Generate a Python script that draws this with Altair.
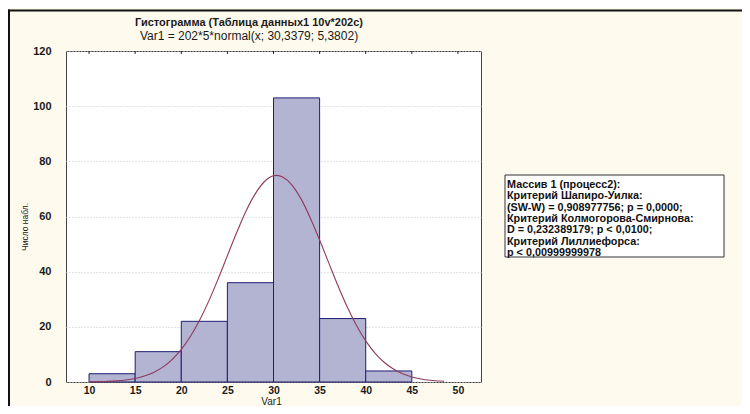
import altair as alt
import pandas as pd

FONT = "Liberation Sans"

# Histogram bins and counts
bin_start = [10, 15, 20, 25, 30, 35, 40]
bin_end = [15, 20, 25, 30, 35, 40, 45]
counts = [3, 11, 22, 36, 103, 23, 4]

# Fitted normal curve points
curve_x = [10, 11, 12, 13, 14, 15, 16, 17, 18, 19, 20, 21, 22, 23, 24, 25, 26, 27, 28, 29,
           30, 30.34, 31, 32, 33, 34, 35, 36, 37, 38, 39, 40, 41, 42, 43, 44, 45, 46, 47, 48, 48.5]
curve_y = [0.06, 0.12, 0.22, 0.42, 0.74, 1.29, 2.15, 3.46, 5.4, 8.13, 11.8, 16.6, 22.5, 29.5, 37.4,
           45.8, 54.1, 61.8, 68.1, 72.6, 74.75, 74.9, 74.3, 71.4, 66.3, 59.4, 51.5, 43.1, 34.8, 27.2,
           20.5, 14.9, 10.5, 7.15, 4.7, 2.98, 1.83, 1.08, 0.62, 0.34, 0.25]

x_ticks = [10, 15, 20, 25, 30, 35, 40, 45, 50]
y_ticks = [0, 20, 40, 60, 80, 100, 120]

title_lines = ["Гистограмма (Таблица данных1 10v*202c)",
               "Var1 = 202*5*normal(x; 30,3379; 5,3802)"]
x_title = "Var1"
y_title = "Число набл."
box_lines = ["Массив 1 (процесс2):",
             "Критерий Шапиро-Уилка:",
             "(SW-W) = 0,908977756; p = 0,0000;",
             "Критерий Колмогорова-Смирнова:",
             "D = 0,232389179; p < 0,0100;",
             "Критерий Лиллиефорса:",
             "p < 0,00999999978"]

bars_df = pd.DataFrame({"start": bin_start, "end": bin_end, "count": counts})
curve_df = pd.DataFrame({"x": curve_x, "y": curve_y})
ticks_df = pd.DataFrame({"x": x_ticks})
one = ticks_df.head(1)

W, H = 415, 331
PL, PT = 58, 43
TOTAL_W, TOTAL_H = 734, 398

xscale = alt.Scale(domain=[7.5, 52.5], nice=False, zero=False)
yscale = alt.Scale(domain=[0, 120], nice=False)

xaxis = alt.Axis(values=x_ticks, title=None, ticks=False, domain=False, grid=False,
                 labelFont=FONT, labelFontSize=10.5, labelFontWeight="bold", labelColor="#1a1a1a",
                 labelPadding=3)
yaxis = alt.Axis(values=y_ticks, title=None, ticks=False, domain=False,
                 grid=True, gridColor="#c8c8c8", gridDash=[1, 2], gridWidth=1,
                 labelFont=FONT, labelFontSize=11, labelFontWeight="bold", labelColor="#1a1a1a",
                 labelPadding=15)

bars = alt.Chart(bars_df).mark_bar(
    fill="#b3b3d2", stroke="#1e1e74", strokeWidth=1, opacity=1
).encode(
    x=alt.X("start:Q", scale=xscale, axis=xaxis),
    x2="end:Q",
    y=alt.Y("count:Q", scale=yscale, axis=yaxis),
    y2=alt.datum(0),
)

curve = alt.Chart(curve_df).mark_line(
    color="#8e3a5c", strokeWidth=1.1, interpolate="monotone"
).encode(x=alt.X("x:Q", scale=xscale), y=alt.Y("y:Q", scale=yscale))

top_ticks = alt.Chart(ticks_df).mark_rule(color="#222", strokeWidth=1).encode(
    x=alt.X("x:Q", scale=xscale), y=alt.value(0), y2=alt.value(3)
)

border_top = alt.Chart(one).mark_rule(color="#111", strokeWidth=2).encode(
    x=alt.value(-PL), x2=alt.value(TOTAL_W - PL), y=alt.value(-PT + 2.5)
)
border_left = alt.Chart(one).mark_rule(color="#111", strokeWidth=2).encode(
    x=alt.value(-PL + 1), y=alt.value(-PT + 1.5), y2=alt.value(TOTAL_H - PT)
)

title1 = alt.Chart(one).mark_text(
    font=FONT, fontSize=11, fontWeight="bold", color="#1a1a1a", align="center", baseline="middle"
).encode(x=alt.value(183), y=alt.value(-28), text=alt.value(title_lines[0]))
title2 = alt.Chart(one).mark_text(
    font=FONT, fontSize=12, fontWeight="normal", color="#1a1a1a", align="center", baseline="middle"
).encode(x=alt.value(183), y=alt.value(-15), text=alt.value(title_lines[1]))

xt = alt.Chart(one).mark_text(
    font=FONT, fontSize=10, color="#1a1a1a", align="center", baseline="alphabetic"
).encode(x=alt.value(W / 2 - 2), y=alt.value(TOTAL_H - PT - 1), text=alt.value(x_title))

yt = alt.Chart(one).mark_text(
    font=FONT, fontSize=8.5, color="#1a1a1a", align="center", baseline="middle", angle=270
).encode(x=alt.value(-41), y=alt.value(176), text=alt.value(y_title))

box = alt.Chart(one).mark_rect(fill="white", stroke="#333", strokeWidth=1).encode(
    x=alt.value(439), x2=alt.value(658), y=alt.value(124), y2=alt.value(206)
)
box_text = alt.Chart(one).mark_text(
    font=FONT, fontSize=10.8, fontWeight="bold", color="#111", align="left", baseline="top",
    lineHeight=11.3
).encode(x=alt.value(441), y=alt.value(128), text=alt.value(box_lines))

chart = alt.layer(
    bars, curve, top_ticks, border_top, border_left, title1, title2, xt, yt, box, box_text
).properties(
    width=W, height=H,
    autosize=alt.AutoSizeParams(type="none"),
    padding={"left": PL, "top": PT, "right": TOTAL_W - PL - W, "bottom": TOTAL_H - PT - H},
    background="#fffaee",
).configure_view(
    fill="white", stroke="#444", strokeWidth=1
)

chart.save("out.html", embed_options={"renderer": "svg", "actions": False})
